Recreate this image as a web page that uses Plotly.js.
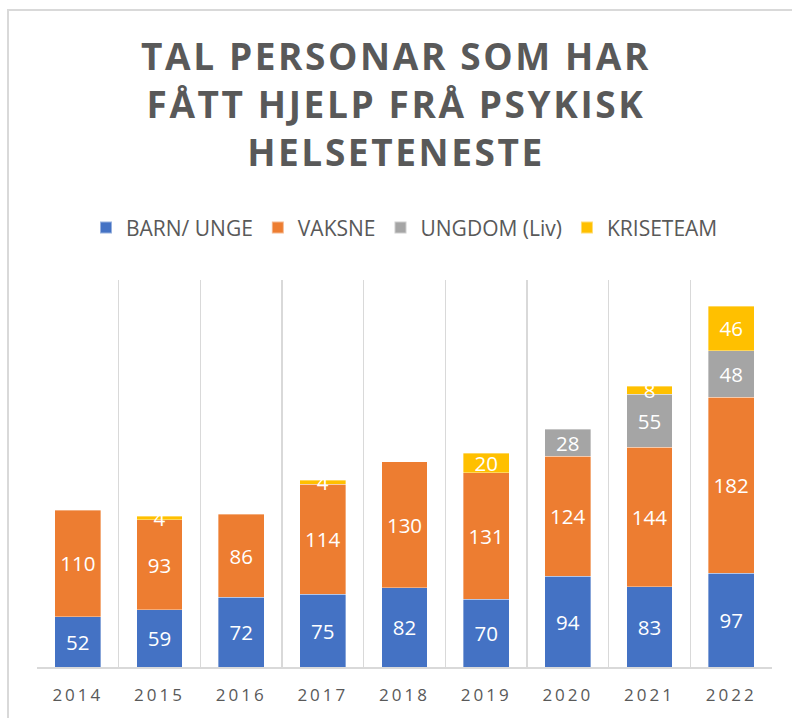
<!DOCTYPE html>
<html>
<head>
<meta charset="utf-8">
<script src="https://cdn.plot.ly/plotly-3.0.1.min.js"></script>
<style>
  html, body { margin: 0; padding: 0; background: #fff; }
  #wrap { position: relative; width: 792px; height: 718px; overflow: hidden; }
  #frame { position: absolute; left: 7px; top: 9px; width: 800px; height: 800px; border: 2px solid #d9d9d9; box-sizing: border-box; pointer-events: none; }
  #chart { position: absolute; left: 0; top: 0; width: 792px; height: 718px; }
  .gtitle { letter-spacing: 2.6px; }
  .xtick text { letter-spacing: 3px; }
</style>
</head>
<body>
<div id="wrap">
  <div id="chart"></div>
  <div id="frame"></div>
</div>
<script>
const years = ['2014', '2015', '2016', '2017', '2018', '2019', '2020', '2021', '2022'];
const barnUnge = [52, 59, 72, 75, 82, 70, 94, 83, 97];
const vaksne = [110, 93, 86, 114, 130, 131, 124, 144, 182];
const ungdomLiv = [null, null, null, null, null, null, 28, 55, 48];
const kriseteam = [null, 4, null, 4, null, 20, null, 8, 46];

const seriesNames = ['BARN/ UNGE', 'VAKSNE', 'UNGDOM (Liv)', 'KRISETEAM'];
const seriesValues = [barnUnge, vaksne, ungdomLiv, kriseteam];
const seriesColors = ['#4472C4', '#ED7D31', '#A5A5A5', '#FFC000'];

const traces = seriesNames.map((name, i) => ({
  type: 'bar',
  name: name,
  x: years,
  y: seriesValues[i],
  text: seriesValues[i].map(v => v == null ? '' : String(v)),
  textposition: 'inside',
  insidetextanchor: 'middle',
  constraintext: 'none',
  textangle: 0,
  cliponaxis: false,
  textfont: { family: 'Open Sans, sans-serif', size: 20.5, color: '#ffffff' },
  marker: { color: seriesColors[i], line: { color: 'rgba(255,255,255,0.45)', width: 0.8 } },
  hoverinfo: 'x+y+name'
}));

const layout = {
  width: 792,
  height: 718,
  barmode: 'stack',
  bargap: 0.437,
  paper_bgcolor: '#ffffff',
  plot_bgcolor: '#ffffff',
  margin: { l: 37, r: 20, t: 280, b: 51 },
  title: {
    text: 'TAL PERSONAR SOM HAR<br>FÅTT HJELP FRÅ PSYKISK<br>HELSETENESTE',
    font: { family: 'Open Sans, sans-serif', size: 37, color: '#595959', weight: 'bold' },
    x: 0.5,
    xanchor: 'center',
    y: 0.903,
    yref: 'container',
    yanchor: 'top'
  },
  showlegend: true,
  legend: {
    orientation: 'h',
    x: 0.5,
    xanchor: 'center',
    y: 0.6825,
    yref: 'container',
    yanchor: 'middle',
    traceorder: 'normal',
    font: { family: 'Open Sans, sans-serif', size: 21, color: '#595959' },
    itemwidth: 30,
    itemsizing: 'constant'
  },
  xaxis: {
    type: 'category',
    tickson: 'boundaries',
    showgrid: true,
    gridcolor: '#d9d9d9',
    gridwidth: 1.5,
    showline: true,
    linecolor: '#d9d9d9',
    linewidth: 2,
    ticks: '',
    tickfont: { family: 'Open Sans, sans-serif', size: 17, color: '#595959' },
    ticklabelstandoff: 12,
    fixedrange: true
  },
  yaxis: {
    range: [0, 400],
    showgrid: false,
    zeroline: false,
    showticklabels: false,
    showline: false,
    ticks: '',
    fixedrange: true
  }
};

Plotly.newPlot('chart', traces, layout, { displayModeBar: false, staticPlot: true });
</script>
</body>
</html>
